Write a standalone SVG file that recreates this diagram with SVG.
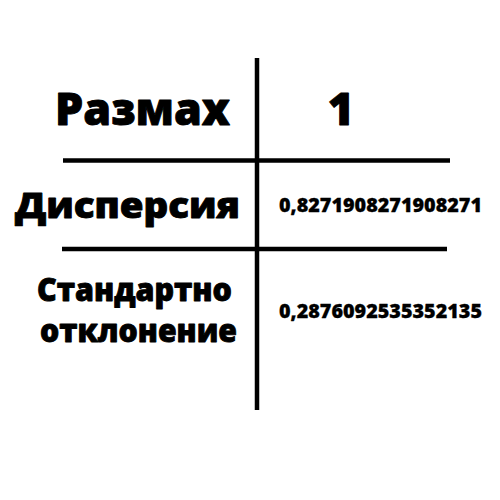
<svg xmlns="http://www.w3.org/2000/svg" width="500" height="500" viewBox="0 0 500 500">
<style>
.t{font-family:"Open Sans","Noto Sans","DejaVu Sans",sans-serif;font-weight:800;fill:#000;stroke:#000;stroke-width:0.9;stroke-linejoin:round}
.n{stroke-width:0.3}
.ln{stroke:#000;stroke-width:4.5;fill:none}
</style>
<rect width="500" height="500" fill="#fff"/>
<g id="connectors">
<line class="ln" x1="257" y1="58" x2="257" y2="410"/>
<line class="ln" x1="63" y1="160.5" x2="450" y2="160.5"/>
<line class="ln" x1="62" y1="249" x2="447" y2="249"/>
</g>
<g id="row1-label"><text class="t" x="55" y="125" font-size="45" textLength="175" lengthAdjust="spacingAndGlyphs">Размах</text></g>
<g id="row1-value"><text class="t" x="341" y="125" font-size="45" text-anchor="middle">1</text></g>
<g id="row2-label"><text class="t" x="15" y="218" font-size="36" textLength="225" lengthAdjust="spacingAndGlyphs">Дисперсия</text></g>
<g id="row2-value"><text class="t n" x="279" y="212" font-size="20" textLength="203" lengthAdjust="spacingAndGlyphs">0,8271908271908271</text></g>
<g id="row3-label"><text class="t" x="37" y="301" font-size="32" textLength="195" lengthAdjust="spacingAndGlyphs">Стандартно</text><text class="t" x="40" y="342" font-size="32" textLength="197" lengthAdjust="spacingAndGlyphs">отклонение</text></g>
<g id="row3-value"><text class="t n" x="279" y="318" font-size="20" textLength="203" lengthAdjust="spacingAndGlyphs">0,2876092535352135</text></g>
</svg>
